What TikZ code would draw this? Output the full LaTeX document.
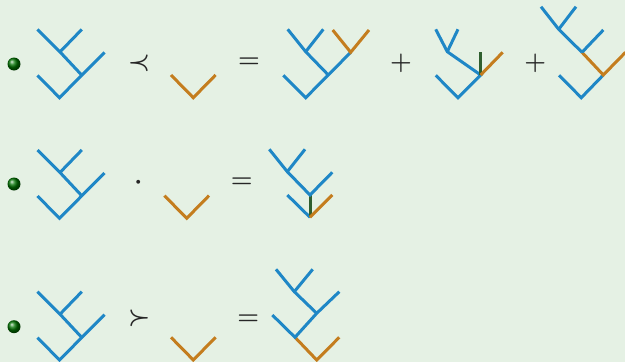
\documentclass[tikz,border=0pt]{standalone}
\definecolor{bgc}{HTML}{E5F1E4}
\definecolor{tblue}{HTML}{1F87C6}
\definecolor{torange}{HTML}{C47D1E}
\definecolor{tgreen}{HTML}{2F5F2F}
\definecolor{symc}{HTML}{262626}
\tikzset{
  bl/.style={draw=tblue,line width=3pt},
  orb/.style={draw=torange,line width=3pt},
  grb/.style={draw=tgreen,line width=3pt},
  sym/.style={anchor=base,inner sep=0pt,text=symc,font=\fontsize{25}{25}\selectfont\boldmath},
  bullet/.style={circle,minimum size=13pt,inner sep=0pt,shading=ball,ball color=green!45!black},
  treeA/.pic={
    \coordinate (-r) at (0,0);
    \coordinate (-l) at (-22,-22.3);
    \coordinate (-n1) at (22.3,-22.5);
    \coordinate (-rr) at (45,-45.3);
    \coordinate (-n2) at (0.5,-45.8);
    \coordinate (-a) at (-22,-68.3);
    \coordinate (-b) at (22.3,-68.3);
    \draw[bl] (-l) -- (-r) -- (-n1) -- (-rr);
    \draw[bl] (-n1) -- (-n2) -- (-a);
    \draw[bl] (-n2) -- (-b);
  },
  orV/.pic={
    \coordinate (-r) at (0,0);
    \coordinate (-l) at (-22.3,-22.7);
    \coordinate (-rt) at (22.3,-22.7);
    \draw[orb] (-l) -- (-r) -- (-rt);
  }
}
\begin{document}
\begin{tikzpicture}[x=1pt,y=-1pt]
\fill[bgc] (0,0) rectangle (625,362);
\useasboundingbox (0,0) rectangle (625,362);
\clip (0,0) rectangle (625,362);

% ---------- Row 1 ----------
\node[bullet] (ball1) at (14,64) {};
\pic (A1) at (59.5,97.7) {treeA};
\node[sym] (prec1) at (139,69.3) {$\prec$};
\pic (V1) at (193.3,97.7) {orV};
\node[sym] (eq1) at (249,67.3) {$=$};
% tree B
\coordinate (B-r) at (305.7,97.7);
\coordinate (B-l) at (283.3,75.3);
\coordinate (B-n1) at (328.3,75);
\coordinate (B-n2) at (305.7,51.7);
\coordinate (B-a) at (287.7,29.3);
\coordinate (B-b) at (323.3,29.3);
\coordinate (B-n3) at (350.7,52.3);
\coordinate (B-c) at (332.7,30);
\coordinate (B-d) at (369,30);
\draw[bl] (B-l) -- (B-r) -- (B-n1) -- (B-n3);
\draw[bl] (B-n1) -- (B-n2) -- (B-a);
\draw[bl] (B-n2) -- (B-b);
\draw[orb] (B-c) -- (B-n3) -- (B-d);
\node[sym] (plus1) at (401,69) {$+$};
% tree C
\coordinate (C-r) at (458,97.7);
\coordinate (C-l) at (435.7,75.3);
\coordinate (C-n1) at (480.7,75);
\coordinate (C-g) at (480.7,52.3);
\coordinate (C-o) at (502.7,52.3);
\coordinate (C-m) at (447.3,51.7);
\coordinate (C-a) at (435.7,29.3);
\coordinate (C-b) at (458,29.3);
\draw[bl] (C-l) -- (C-r) -- (C-n1) -- (C-m) -- (C-a);
\draw[bl] (C-m) -- (C-b);
\draw[grb] (C-n1) -- (C-g);
\draw[orb] (C-n1) -- (C-o);
\node[sym] (plus2) at (535.3,69) {$+$};
% tree D
\coordinate (D-r) at (581.3,97.7);
\coordinate (D-l) at (559,75.3);
\coordinate (D-n1) at (603.3,75);
\coordinate (D-o) at (625.5,52.3);
\coordinate (D-n2) at (582,52.3);
\coordinate (D-c) at (603.3,30);
\coordinate (D-n3) at (558.7,29.3);
\coordinate (D-a) at (541,6.7);
\coordinate (D-b) at (576,6.7);
\draw[bl] (D-l) -- (D-r) -- (D-n1);
\draw[orb] (D-o) -- (D-n1) -- (D-n2);
\draw[bl] (D-n2) -- (D-c);
\draw[bl] (D-n2) -- (D-n3) -- (D-a);
\draw[bl] (D-n3) -- (D-b);

% ---------- Row 2 ----------
\node[bullet] (ball2) at (14,184) {};
\pic (A2) at (59.5,218.3) {treeA};
\node[sym] (dot2) at (138.3,188.6) {$\cdot$};
\pic (V2) at (186.7,218.3) {orV};
\node[sym] (eq2) at (241.7,187) {$=$};
\coordinate (E-r) at (310,217.3);
\coordinate (E-l) at (287.3,195);
\coordinate (E-n1) at (310,195);
\coordinate (E-o) at (332.3,195);
\coordinate (E-rr) at (332.3,172.3);
\coordinate (E-n2) at (287.3,171.7);
\coordinate (E-a) at (269.3,149.3);
\coordinate (E-b) at (305,149.3);
\draw[bl] (E-l) -- (E-r);
\draw[grb] (E-r) -- (E-n1);
\draw[orb] (E-r) -- (E-o);
\draw[bl] (E-rr) -- (E-n1) -- (E-n2) -- (E-a);
\draw[bl] (E-n2) -- (E-b);

% ---------- Row 3 ----------
\node[bullet] (ball3) at (14,326.7) {};
\pic (A3) at (59.5,360) {treeA};
\node[sym] (succ3) at (139.3,324.6) {$\succ$};
\pic (V3) at (193.3,360) {orV};
\node[sym] (eq3) at (248.3,324.6) {$=$};
\coordinate (F-r) at (316.7,360);
\coordinate (F-p) at (295,337.3);
\coordinate (F-o) at (339.3,337.3);
\coordinate (F-l) at (272.3,315);
\coordinate (F-n1) at (316.7,313.3);
\coordinate (F-rr) at (339.3,291.7);
\coordinate (F-n2) at (294.3,291.7);
\coordinate (F-a) at (276,269.3);
\coordinate (F-b) at (312.7,269.3);
\draw[orb] (F-p) -- (F-r) -- (F-o);
\draw[bl] (F-l) -- (F-p) -- (F-n1) -- (F-rr);
\draw[bl] (F-n1) -- (F-n2) -- (F-a);
\draw[bl] (F-n2) -- (F-b);
\end{tikzpicture}
\end{document}
